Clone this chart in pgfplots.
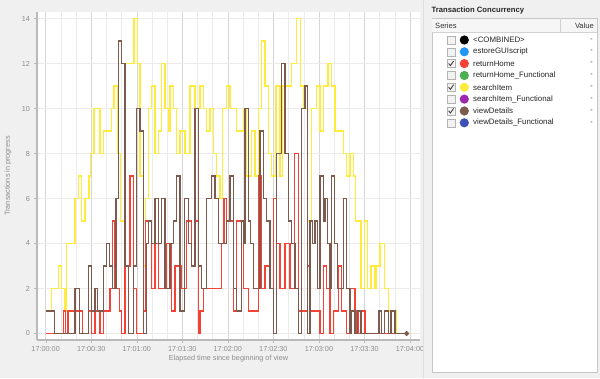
\documentclass[border=0pt]{standalone}
\usepackage{fontspec}
\setmainfont{Liberation Sans}
\usepackage{pgfplots}
\pgfplotsset{compat=1.18}
\usetikzlibrary{backgrounds}
\definecolor{bg}{HTML}{F0F0F0}
\definecolor{ylw}{HTML}{FFEB3B}
\definecolor{rd}{HTML}{F44336}
\definecolor{brn}{HTML}{7D5A4E}
\definecolor{gridc}{HTML}{EBEBEB}
\definecolor{gridm}{HTML}{D6D6D6}
\definecolor{txtg}{HTML}{8C8C8C}
\definecolor{cblue}{HTML}{2196F3}
\definecolor{cgreen}{HTML}{4CAF50}
\definecolor{cpurple}{HTML}{9C27B0}
\definecolor{cindigo}{HTML}{3F51B5}
\begin{document}
\begin{tikzpicture}[x=1bp,y=1bp]
\begin{axis}[
  scale only axis,
  width=383bp, height=328bp,
  xmin=-5.7, xmax=246.6, ymin=-0.29, ymax=14.29,
  axis background/.style={fill=white},
  axis x line*=bottom, axis y line*=left,
  axis line style={draw=gray!55},
  xtick={0,30,60,90,120,150,180,210,240},
  xticklabels={17:00:00,17:00:30,17:01:00,17:01:30,17:02:00,17:02:30,17:03:00,17:03:30,17:04:00},
  minor xtick={10,20,40,50,70,80,100,110,130,140,160,170,190,200,220,230},
  ytick={0,2,4,6,8,10,12,14},
  xmajorgrids, xminorgrids, ymajorgrids,
  major x grid style={gridm},
  minor x grid style={gridc},
  major y grid style={gridc},
  tick align=outside,
  major tick length=3bp, minor tick length=0pt,
  tick style={gray!55},
  /pgf/number format/assume math mode=true,
  tick label style={font=\fontsize{7.3}{8}\selectfont, text=txtg},
  xticklabel style={yshift=1bp},
  ylabel={Transactions in progress},
  xlabel={Elapsed time since beginning of view},
  every axis y label/.style={at={(axis description cs:-0.076,0.5)}, rotate=90, anchor=center, font=\fontsize{7.3}{8}\selectfont, text=txtg},
  every axis x label/.style={at={(axis description cs:0.5,-0.058)}, anchor=center, font=\fontsize{7.3}{8}\selectfont, text=txtg},
  const plot, line width=1.3bp,
  clip=false,
]
\coordinate (o) at (rel axis cs:0,0);
\addplot[ylw, const plot, mark=none] coordinates {(0,1)(3.8,2)(8.3,3)(10.5,2)(12.7,1)(13.8,4)(19.3,6)(21.5,7)(23.7,5)(25.9,6)(28.5,7)(29.6,8)(31.8,10)(35.8,8)(37.9,9)(43.5,10)(45,11)(47.2,8)(49.4,5)(52.2,12)(58.2,14)(60.3,12)(62.1,7)(64.3,3)(65.9,6)(67.6,10)(69.8,11)(72,8)(74.2,9)(76.4,12)(78.6,10)(80.8,9)(81.9,11)(84.1,10)(86.3,8)(88.5,9)(91.8,8)(95.1,11)(98.4,10)(101.7,11)(103.8,10)(106.1,9)(108.2,10)(110.4,8)(112.7,7)(114.8,6)(116.3,10)(119.2,11)(121.4,10)(125.8,9)(130.2,10)(132.4,7)(135.7,9)(137.9,7)(140.1,10)(142.3,13)(144.5,11)(146.6,8)(148.9,7)(151.7,11)(154.4,7)(156.1,11)(162.1,12)(165.4,14)(168,11)(169.7,10)(172.3,5)(175.2,10)(178.5,11)(180.7,9)(182.9,11)(186,12)(188.3,11)(190.6,9)(196.1,8)(198.3,7)(200.5,8)(202.6,7)(204.2,5)(207.7,2)(209.9,5)(212.1,2)(214.3,3)(216.9,2)(218.1,3)(220.2,4)(223.1,2)(225.7,1)(231.2,0)(237.8,0)};
\addplot[rd, const plot, mark=none] coordinates {(0,0)(11.6,1)(13.2,0)(14.7,1)(24.1,0)(28.1,1)(30.3,0)(32.5,1)(35.8,0)(37.9,1)(42.4,2)(44.1,5)(45.7,2)(48.5,1)(50.1,0)(52.2,3)(55.5,7)(57.7,2)(59.9,0)(64.3,1)(65.9,5)(69.8,2)(72,4)(74.2,2)(79.7,4)(83,1)(85.2,3)(89.6,2)(92.9,5)(96.2,3)(98.4,5)(100.5,0)(101.7,1)(103.8,2)(115.9,4)(117.5,6)(119.2,5)(123.6,1)(125.8,5)(130.2,2)(133.5,1)(140.1,7)(142.3,2)(144.5,3)(147.3,2)(149.9,6)(152.2,4)(154.4,2)(157.6,4)(160.9,2)(163.8,8)(166.4,1)(172.3,3)(174.1,1)(180.7,0)(182.9,3)(185.1,2)(187.3,0)(189.5,1)(192.8,3)(195,1)(198.3,0)(200.5,2)(203.8,0)(204.9,1)(205.9,0)(208.2,1)(210.3,0)(237.8,0)};
\addplot[brn, const plot, mark=none] coordinates {(0,1)(5.7,0)(19.3,2)(22.1,0)(28.1,3)(30.3,1)(32.5,2)(34,1)(37.9,3)(40.2,4)(41.9,3)(44.1,2)(46.3,6)(47.8,13)(50.1,12)(52.2,3)(54.4,0)(57.7,3)(59.9,10)(62.1,9)(64.3,0)(66.5,4)(67.6,5)(69.8,4)(72,6)(74.2,4)(76.4,6)(78.6,2)(81.9,4)(84.1,5)(86.3,7)(88.5,1)(91.3,6)(93.9,4)(96.2,3)(98.4,10)(100.5,3)(102.8,2)(106.1,6)(109.4,7)(111.5,6)(113.7,4)(119.2,5)(121.4,7)(123.6,2)(125.8,1)(129.1,5)(130.2,4)(131.3,10)(133.5,5)(135,4)(136.8,2)(141.2,9)(143.3,6)(145.6,5)(147.8,2)(149.9,0)(152.2,8)(155.5,12)(157.6,8)(159.8,5)(162.1,4)(164.2,2)(166.4,0)(168.6,10)(170.8,11)(172.3,0)(174.1,5)(175.9,4)(177.4,5)(178.9,2)(180.7,7)(182.9,5)(184,6)(185.8,4)(187.3,2)(188.4,7)(190.1,4)(192.4,2)(196.1,6)(198.3,2)(200.5,0)(201.6,1)(203.8,0)(205.5,1)(207.7,0)(219.6,1)(221.4,0)(223.1,1)(225.7,0)(227.5,1)(230.1,0)(237.8,0)};
\addplot[brn, only marks, mark=*, mark size=1.8bp] coordinates {(237.8,0)};
\end{axis}
\pgfresetboundingbox
\begin{scope}[shift={(o)}, xshift=-37bp, yshift=-38bp]
\useasboundingbox (0,0) rectangle (600,378);
\begin{scope}[on background layer]
\fill[bg] (0,0) rectangle (600,378);
\end{scope}
\draw[gray!25] (423.5,0) -- (423.5,378);
% legend panel
\node[anchor=west, inner sep=0, font=\bfseries\fontsize{7.7}{9}\selectfont, text=black!85] at (431.5,367) {Transaction Concurrency};
\filldraw[fill=white, draw=gray!45] (431.7,6) rectangle (597,359.7);
\fill[gray!7] (432.2,345.9) rectangle (596.5,359.2);
\draw[gray!35] (431.7,345.7) -- (597,345.7);
\draw[gray!35] (560,345.7) -- (560,359.7);
\node[anchor=west, inner sep=0, font=\fontsize{7.6}{9}\selectfont, text=black!80] at (435,352.5) {Series};
\node[anchor=east, inner sep=0, font=\fontsize{7.6}{9}\selectfont, text=black!80] at (594,352.5) {Value};
\foreach \yy/\nm/\cc/\ck in {338/{<COMBINED>}/black/0, 326.2/{estoreGUIscript}/cblue/0, 314.4/{returnHome}/rd/1, 302.5/{returnHome\_Functional}/cgreen/0, 290.7/{searchItem}/ylw/1, 278.9/{searchItem\_Functional}/cpurple/0, 267/{viewDetails}/brn/1, 255.2/{viewDetails\_Functional}/cindigo/0}{
  \filldraw[fill=gray!10, draw=gray!60, line width=0.6bp] (447,\yy-4) rectangle (455,\yy+4);
  \ifnum\ck=1 \draw[line width=0.9bp, black!75] (448.6,\yy+0.2) -- (450.4,\yy-2) -- (453.6,\yy+2.6); \fi
  \fill[\cc] (464.3,\yy) circle (4.6);
  \node[anchor=west, inner sep=0, font=\fontsize{7.9}{9}\selectfont, text=black!85] at (473,\yy) {\nm};
  \node[anchor=center, inner sep=0, font=\fontsize{7.9}{9}\selectfont, text=black!70] at (591.5,\yy) {-};
}
\end{scope}
\end{tikzpicture}
\end{document}
